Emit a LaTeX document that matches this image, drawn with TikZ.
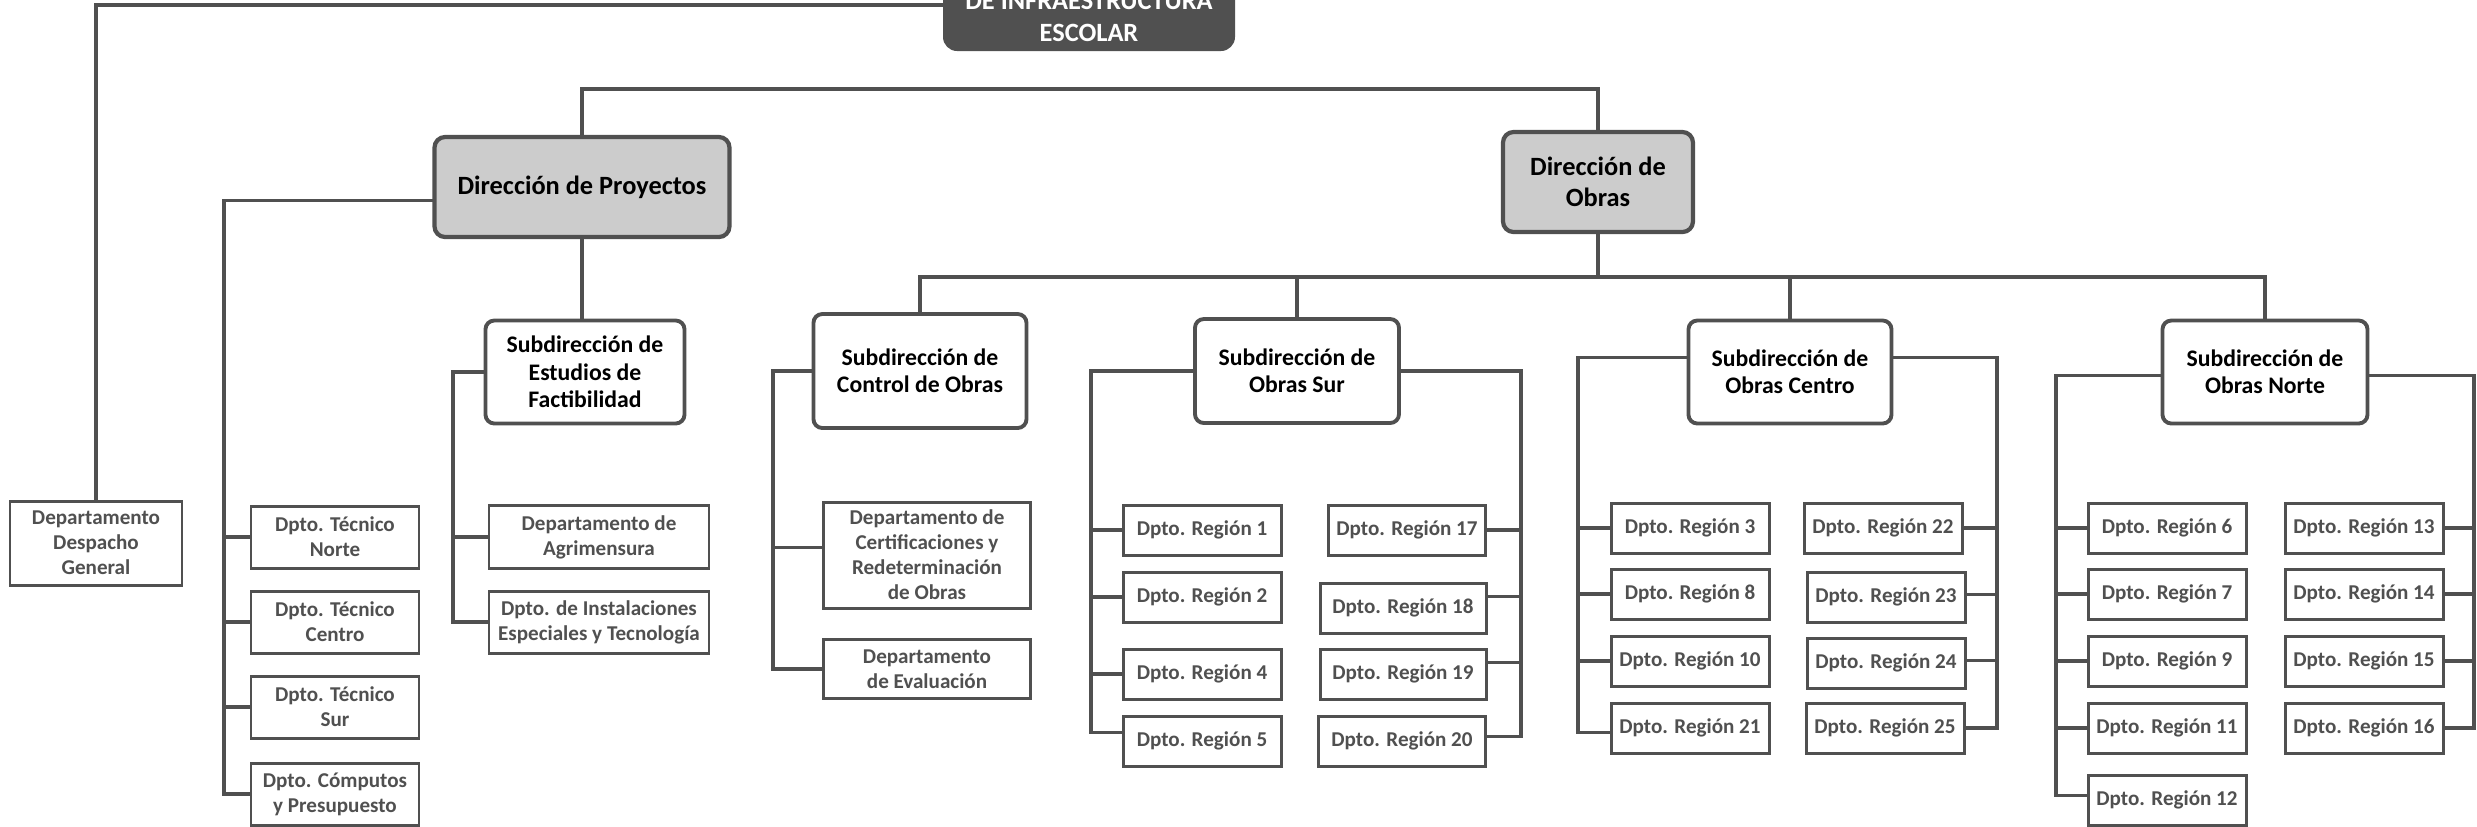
\documentclass[tikz,border=0pt]{standalone}
\usepackage{fontspec}
\setmainfont{Carlito}
\definecolor{darkline}{RGB}{80,80,80}
\definecolor{dirfill}{RGB}{204,204,204}
\begin{document}
\begin{tikzpicture}[x=0.01cm,y=-0.01cm,
  link/.style={draw=darkline,line width=0.9pt,line cap=rect},
  topbox/.style={fill=darkline,rounded corners=4pt,text=white,align=center,inner sep=0pt,
    font=\fontsize{7.5}{9}\selectfont\bfseries},
  dirbox/.style={draw=darkline,line width=1.2pt,fill=dirfill,rounded corners=3pt,align=center,inner sep=0pt,
    font=\fontsize{7.5}{8.8}\selectfont\bfseries},
  subbox/.style={draw=darkline,line width=1.1pt,fill=white,rounded corners=2.5pt,align=center,inner sep=0pt,
    font=\fontsize{6.75}{7.8}\selectfont\bfseries},
  dptobox/.style={draw=darkline,line width=0.85pt,fill=white,text=darkline,align=center,inner sep=0pt,
    font=\fontsize{6}{7.1}\selectfont\bfseries}]
\useasboundingbox (0,0) rectangle (2477,826);
\clip (0,0) rectangle (2477,826);

\node[topbox,minimum width=292*0.01cm,minimum height=82*0.01cm] (top) at (1089,10) {\mbox{}\\DE INFRAESTRUCTURA\\ESCOLAR};
\node[dptobox,minimum width=172*0.01cm,minimum height=84*0.01cm] (desp) at (96,543) {Departamento\\Despacho\\General};
\draw[link] (top.west |- 0,5) -| (desp.north);

% Direcciones
\node[dirbox,minimum width=295*0.01cm,minimum height=100*0.01cm] (proy) at (582,187) {Dirección de Proyectos};
\node[dirbox,minimum width=190*0.01cm,minimum height=100*0.01cm] (obras) at (1598,182) {Dirección de\\Obras};
\coordinate (busA) at (0,89);
\draw[link] (proy.north) |- (obras.north |- busA) -- (obras.north);

% Proyectos
\node[subbox,minimum width=199*0.01cm,minimum height=103*0.01cm] (estudios) at (585,372) {Subdirección de\\Estudios de\\Factibilidad};
\draw[link] (proy.south) -- (proy.south |- estudios.north);

\foreach \n/\y/\t in {tn/537/{Dpto. Técnico\\Norte},tc/622/{Dpto. Técnico\\Centro},ts/707/{Dpto. Técnico\\Sur},tcp/794/{Dpto. Cómputos\\y Presupuesto}}
  \node[dptobox,minimum width=168*0.01cm,minimum height=62*0.01cm] (\n) at (335,\y) {\t};
\coordinate (pL) at (224,0);
\draw[link] (proy.185) -| (pL |- tcp.west);
\foreach \n in {tn,tc,ts,tcp}
  \draw[link] (pL |- \n.west) -- (\n.west);

\node[dptobox,minimum width=220*0.01cm,minimum height=63*0.01cm] (agri) at (599,537) {Departamento de\\Agrimensura};
\node[dptobox,minimum width=220*0.01cm,minimum height=62*0.01cm] (inst) at (599,622) {Dpto. de Instalaciones\\Especiales y Tecnología};
\coordinate (eL) at (453,0);
\draw[link] (estudios.west) -| (eL |- inst.west) -- (inst.west);
\draw[link] (eL |- agri.west) -- (agri.west);

% Obras
\node[subbox,minimum width=213*0.01cm,minimum height=114*0.01cm] (control) at (920,371) {Subdirección de\\Control de Obras};
\node[subbox,minimum width=204*0.01cm,minimum height=104*0.01cm] (sur) at (1297,371) {Subdirección de\\Obras Sur};
\node[subbox,minimum width=203*0.01cm,minimum height=103*0.01cm] (centro) at (1790,372) {Subdirección de\\Obras Centro};
\node[subbox,minimum width=205*0.01cm,minimum height=103*0.01cm] (norte) at (2265,372) {Subdirección de\\Obras Norte};
\coordinate (busB) at (0,277);
\draw[link] (obras.south) -- (obras.south |- busB);
\draw[link] (control.north) |- (norte.north |- busB) -- (norte.north);
\foreach \n in {sur,centro}
  \draw[link] (\n.north) -- (\n.north |- busB);

\node[dptobox,minimum width=207*0.01cm,minimum height=106*0.01cm] (cert) at (927,555) {Departamento de\\Certificaciones y\\Redeterminación\\de Obras};
\node[dptobox,minimum width=207*0.01cm,minimum height=59*0.01cm] (eval) at (927,669) {Departamento\\de Evaluación};
\coordinate (cL) at (773,0);
\draw[link] (control.west) -| (cL |- eval.west) -- (eval.west);
\draw[link] (cL |- cert.176) -- (cert.176);

% Regiones: name/x/y/width
\foreach \n/\x/\y/\w in {1/1202/530/158,2/1202/597/158,4/1202/674/158,5/1202/741/158,
    3/1690/528/158,8/1690/594/158,10/1690/661/158,21/1690/728/158,
    6/2167/528/158,7/2167/594/158,9/2167/661/158,11/2167/728/158,12/2167/800/158,
    17/1407/530/157,18/1403/608/166,19/1403/674/166,20/1402/741/167,
    22/1883/528/158,23/1886/597/158,24/1886/663/158,25/1885/728/158,
    13/2364/528/158,14/2364/594/158,15/2364/661/158,16/2364/728/158}
  \node[dptobox,minimum width=\w*0.01cm,minimum height=50*0.01cm] (r\n) at (\x,\y) {Dpto. Región \n};

\coordinate (sL) at (1091,0);
\coordinate (sR) at (1521,0);
\coordinate (ceL) at (1578,0);
\coordinate (ceR) at (1997,0);
\coordinate (nL) at (2056,0);
\coordinate (nR) at (2474,0);
\draw[link] (sur.west) -| (sL |- r5.174);
\draw[link] (sur.east) -| (sR |- r20.3);
\draw[link] (centro.172) -| (ceL |- r21.183);
\draw[link] (centro.8) -| (ceR |- r25.0);
\draw[link] (norte.182) -| (nL |- r12.177);
\draw[link] (norte.-2) -| (nR |- r16.0);
% branches: region/anchor/trunk
\foreach \n/\a/\c in {1/180/sL,2/180/sL,4/180/sL,5/174/sL,17/0/sR,18/8/sR,19/8/sR,20/3/sR,
    3/180/ceL,8/180/ceL,10/180/ceL,21/183/ceL,22/0/ceR,23/2/ceR,24/2/ceR,25/0/ceR,
    6/180/nL,7/180/nL,9/180/nL,11/180/nL,12/177/nL,13/0/nR,14/0/nR,15/0/nR,16/0/nR}
  \draw[link] (\c |- r\n.\a) -- (r\n.\a);
\end{tikzpicture}
\end{document}
